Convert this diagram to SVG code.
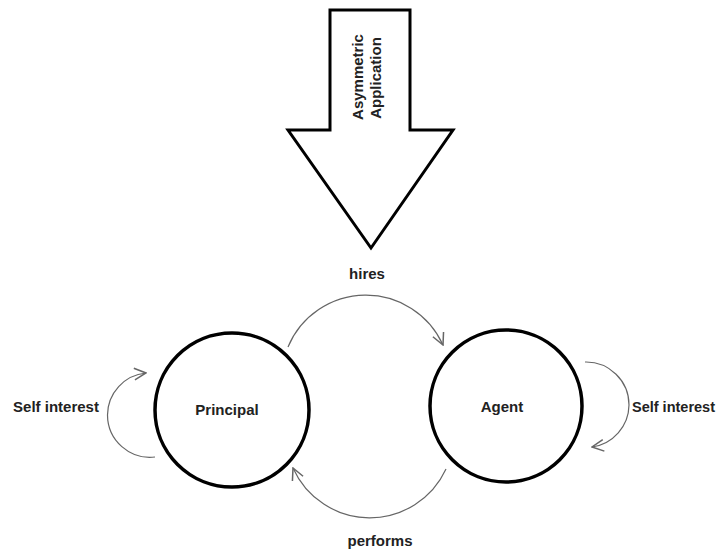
<svg xmlns="http://www.w3.org/2000/svg" width="717" height="551" viewBox="0 0 717 551">
  <style>
    .lbl { font-family: "Liberation Sans", Arial, sans-serif; font-size: 15px; font-weight: bold; fill: #222; }
    .node { fill: #fff; stroke: #000; stroke-width: 3.5; }
    .block { fill: #fff; stroke: #000; stroke-width: 3; stroke-linejoin: miter; }
    .conn { fill: none; stroke: #666; stroke-width: 1.2; }
  </style>
  <defs>
    <marker id="open-arrow" markerUnits="userSpaceOnUse" markerWidth="14" markerHeight="14" viewBox="0 0 12 12" refX="11" refY="6" orient="auto">
      <path d="M1,1 L11,6 L1,11" fill="none" stroke="#666" stroke-width="1.3"/>
    </marker>
  </defs>
  <rect width="717" height="551" fill="#fff"/>

  <!-- Big downward block arrow -->
  <g id="asymmetric-application">
    <path class="block" d="M330,10 L410,10 L410,130 L453,130 L371,248 L288,130 L330,130 Z"/>
    <text class="lbl" text-anchor="middle" transform="translate(363,77) rotate(-90)">Asymmetric</text>
    <text class="lbl" text-anchor="middle" transform="translate(381,78) rotate(-90)">Application</text>
  </g>

  <g id="principal">
    <circle class="node" cx="232" cy="410" r="77"/>
    <text class="lbl" x="227" y="415" text-anchor="middle">Principal</text>
  </g>

  <g id="agent">
    <circle class="node" cx="506" cy="406" r="76"/>
    <text class="lbl" x="502" y="412" text-anchor="middle">Agent</text>
  </g>

  <g id="connectors">
    <!-- hires: principal -> agent -->
    <path class="conn" d="M288,347 A84.5,84.5 0 0 1 443,345" marker-end="url(#open-arrow)"/>
    <text class="lbl" x="367" y="279" text-anchor="middle">hires</text>

    <!-- performs: agent -> principal -->
    <path class="conn" d="M446,469 A84,84 0 0 1 293,468" marker-end="url(#open-arrow)"/>
    <text class="lbl" x="380" y="546" text-anchor="middle">performs</text>

    <!-- principal self loop -->
    <path class="conn" d="M155,457 A42.5,42.5 0 0 1 107.5,415 A42.5,42.5 0 0 1 146,373" marker-end="url(#open-arrow)"/>
    <text class="lbl" x="56" y="412" text-anchor="middle">Self interest</text>

    <!-- agent self loop -->
    <path class="conn" d="M585,362 A43,43 0 0 1 629,405 A43,43 0 0 1 592,447" marker-end="url(#open-arrow)"/>
    <text class="lbl" x="632" y="412" style="font-size:14.5px">Self interest</text>
  </g>
</svg>
